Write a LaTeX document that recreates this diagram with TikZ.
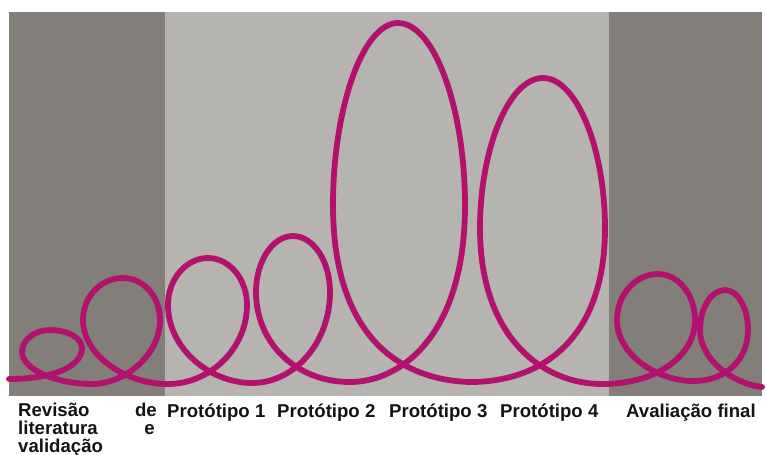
\documentclass[tikz,border=0pt]{standalone}
\usepackage{fontspec}
\setmainfont{Liberation Sans}
\definecolor{darkpanel}{RGB}{130,126,122}
\definecolor{lightpanel}{RGB}{182,180,177}
\definecolor{loopcol}{RGB}{178,18,110}
\tikzset{
  panel/.style={draw=none},
  loopline/.style={draw=loopcol, line width=5.8pt, line cap=round, line join=round},
  lbl/.style={anchor=base west, inner sep=0pt, font=\fontsize{18.6}{18.6}\selectfont\bfseries, text=black!92}
}
\begin{document}
\begin{tikzpicture}[x=1pt,y=-1pt]
\useasboundingbox (0,0) rectangle (766,455);
\fill[white] (0,0) rectangle (766,455);
% panels
\fill[darkpanel] (9,12) rectangle (165,396);
\fill[lightpanel] (165,12) rectangle (609,396);
\fill[darkpanel] (609,12) rectangle (762,396);
% loop curve
\draw[loopline] (9,379)
  % loop 1
  .. controls (57,379) and (82,365) .. (82,348)
  .. controls (82,338) and (67.6,330) .. (50,330)
  .. controls (34.6,330) and (22,340) .. (22,352)
  .. controls (22,369.6) and (57,384) .. (92,384)
  % loop 2
  .. controls (125,384) and (160,355) .. (160,320)
  .. controls (160,296.4) and (143.4,278) .. (123,278)
  .. controls (101,278) and (83,296.4) .. (83,320)
  .. controls (83,355) and (125,384) .. (168,384)
  % loop 3
  .. controls (210,384) and (247,348.5) .. (247,305)
  .. controls (247,279.2) and (229.5,258) .. (208,258)
  .. controls (186,258) and (168,279.2) .. (168,305)
  .. controls (168,348.5) and (210,383) .. (252,383)
  % loop 4
  .. controls (295,383) and (330,342) .. (330,292)
  .. controls (330,261.2) and (313.4,236) .. (293,236)
  .. controls (272.6,236) and (256,261.2) .. (256,292)
  .. controls (256,342) and (295,382) .. (350,382)
  % loop 5
  .. controls (400,382) and (465,336.5) .. (465,205)
  .. controls (465,110) and (434.9,23) .. (398,23)
  .. controls (362.3,23) and (333,110) .. (333,205)
  .. controls (333,336.5) and (400,380) .. (470,382)
  % loop 6
  .. controls (543,382) and (605,338) .. (605,228)
  .. controls (605,150) and (577.1,78) .. (543,78)
  .. controls (508.4,78) and (480,150) .. (480,228)
  .. controls (480,338) and (543,384) .. (602,384)
  % loop 7
  .. controls (658,384) and (695,355.2) .. (695,320)
  .. controls (695,294.7) and (678.4,274) .. (658,274)
  .. controls (635.5,274) and (617,294.7) .. (617,320)
  .. controls (617,355.2) and (658,381) .. (693,381)
  % loop 8
  .. controls (728,381) and (748,358) .. (748,330)
  .. controls (748,308) and (737.7,290) .. (725,290)
  .. controls (711.3,290) and (700,308) .. (700,330)
  .. controls (700,358) and (730,383) .. (762,387);
% labels
\node[lbl] (rev) at (18,416) {Revisão};
\node[lbl, anchor=base east] (de) at (157,416) {de};
\node[lbl] (lit) at (18,434) {literatura};
\node[lbl, anchor=base east] (e) at (155,434) {e};
\node[lbl] (val) at (18,452) {validação};
\node[lbl] (p1) at (167,417) {Protótipo 1};
\node[lbl] (p2) at (277,417) {Protótipo 2};
\node[lbl] (p3) at (389,417) {Protótipo 3};
\node[lbl] (p4) at (500,417) {Protótipo 4};
\node[lbl] (av) at (626,417) {Avaliação final};
\end{tikzpicture}
\end{document}
